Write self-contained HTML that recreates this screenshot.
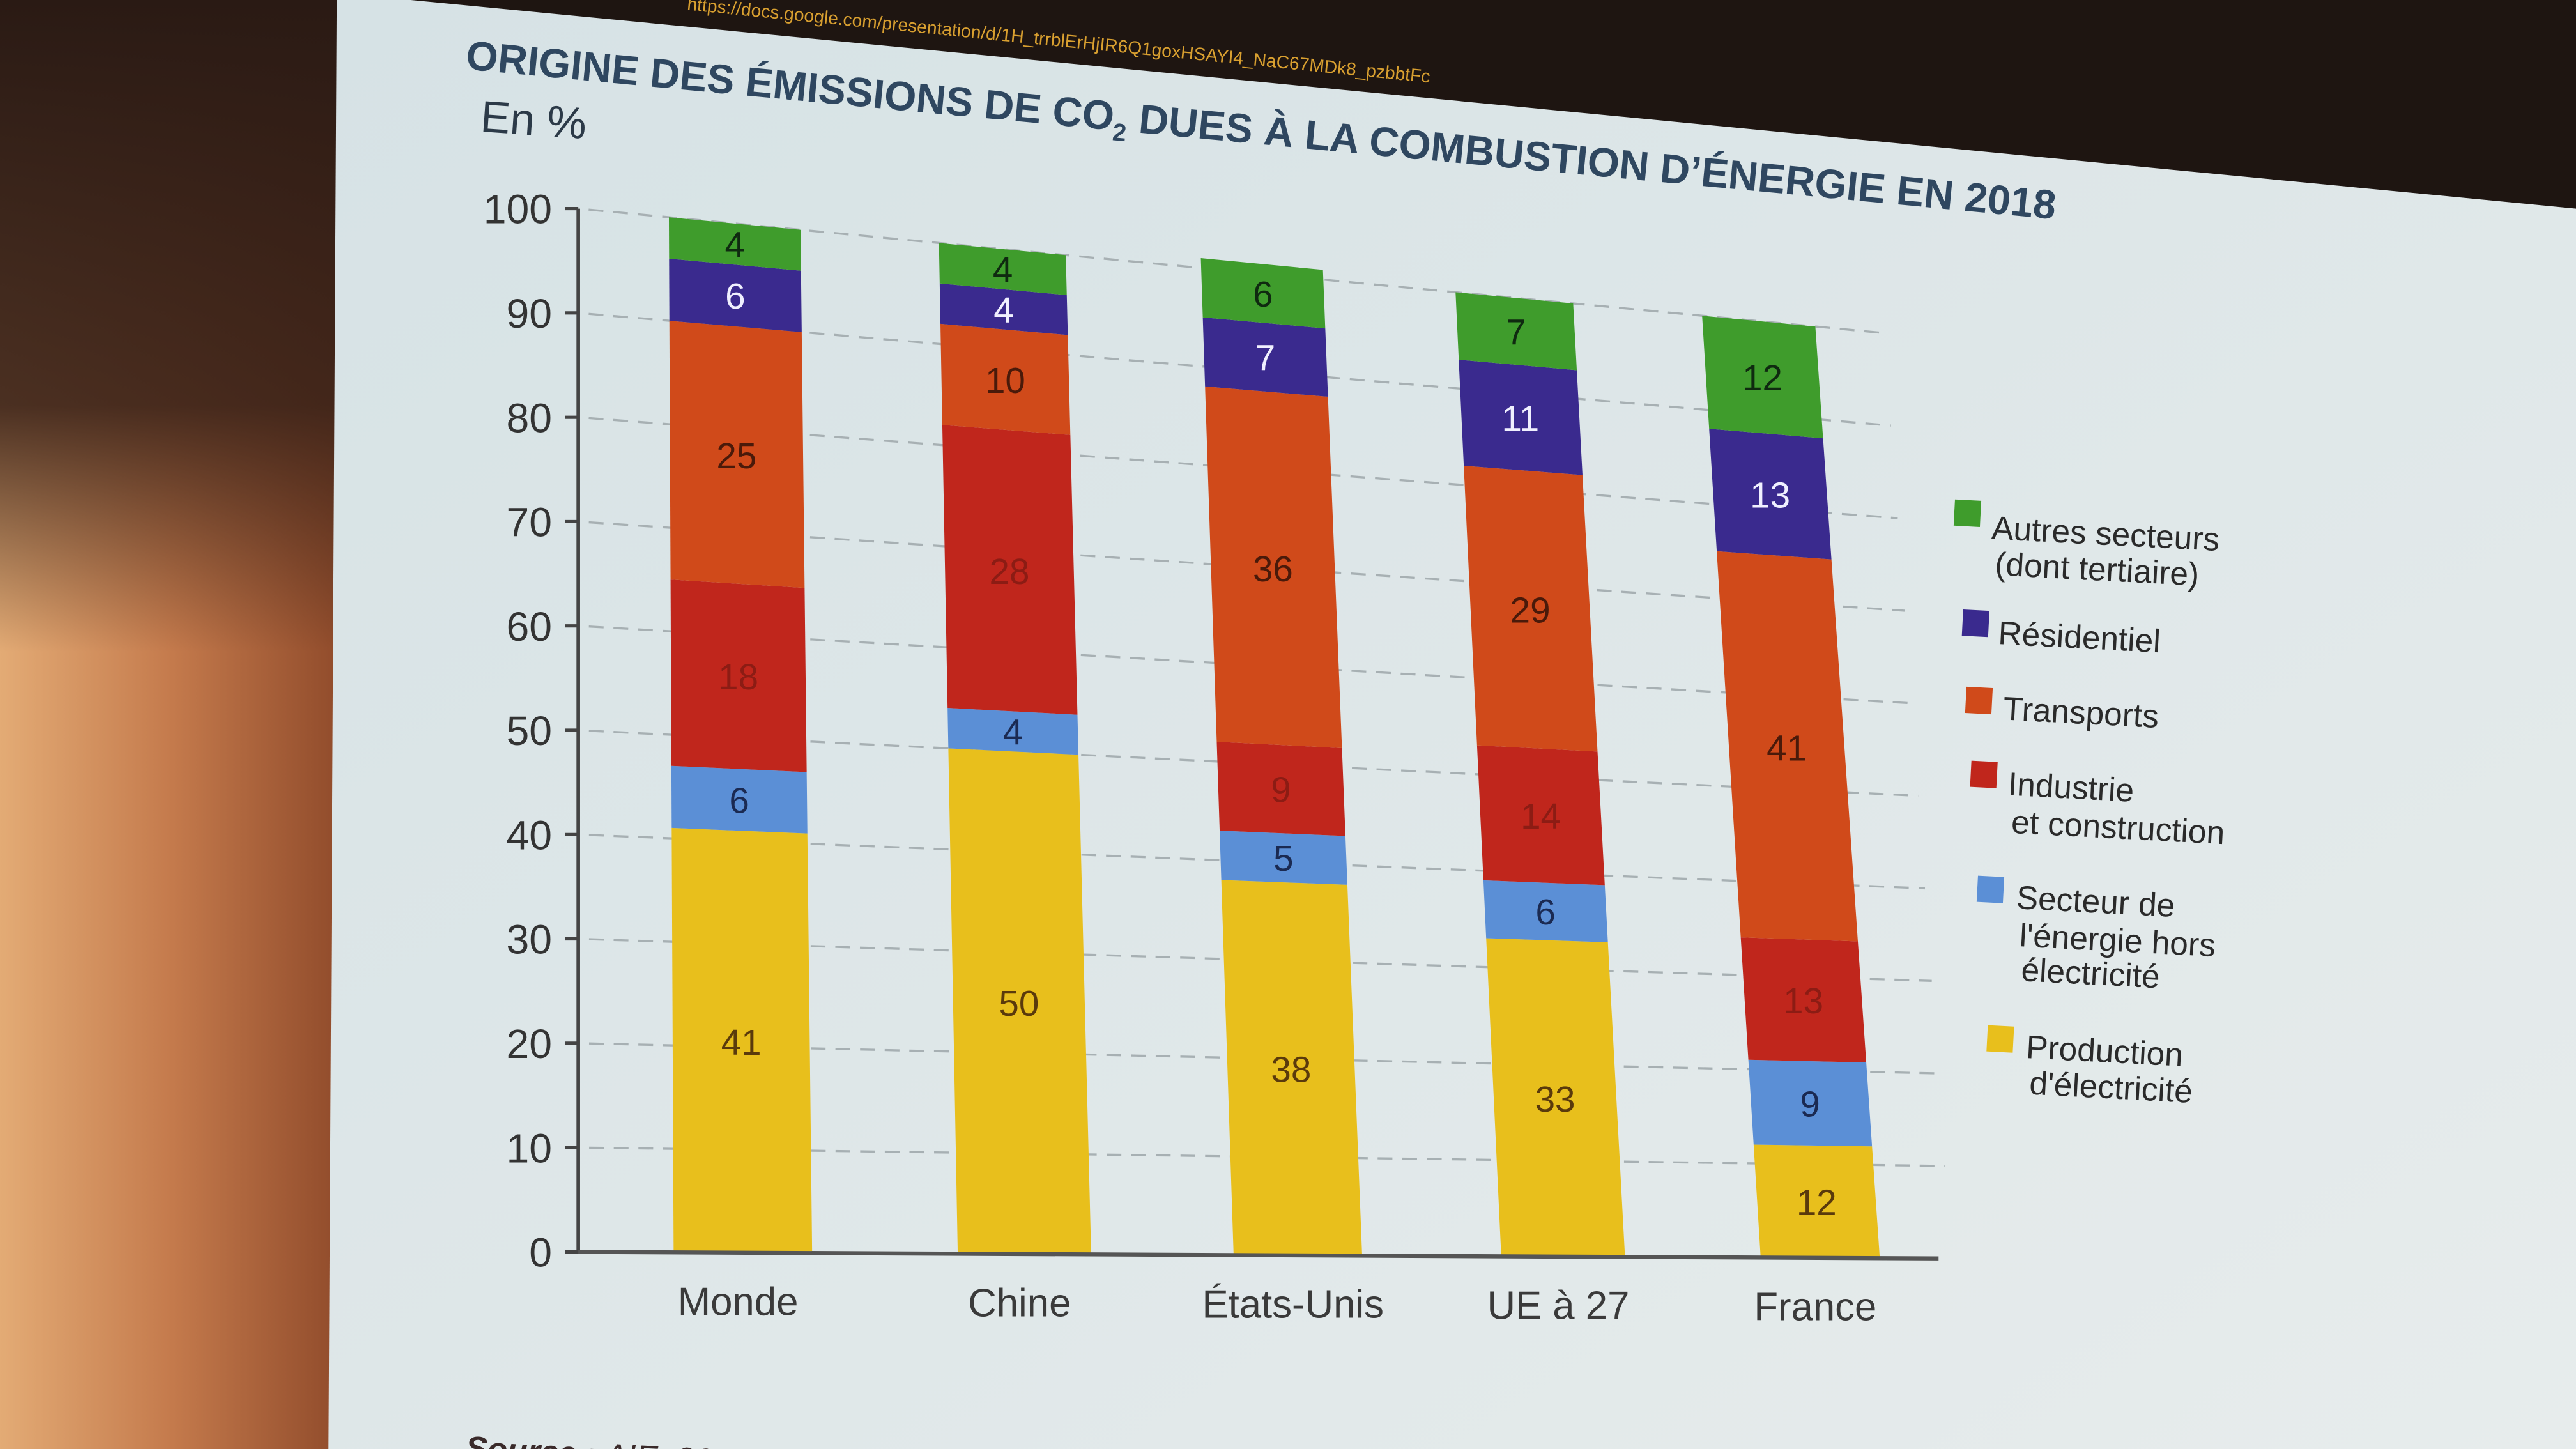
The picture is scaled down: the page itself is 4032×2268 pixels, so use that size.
<!DOCTYPE html>
<html><head><meta charset="utf-8"><style>
html,body{margin:0;padding:0;background:#2a1c16;}
svg{display:block;}
text{font-family:"Liberation Sans",sans-serif;}
</style></head><body>
<svg id="chart" xmlns="http://www.w3.org/2000/svg" width="4032" height="2268" viewBox="0 0 1568 882">
<defs>
<linearGradient id="wallH" x1="0" y1="0" x2="1" y2="0">
<stop offset="0" stop-color="#e3ab75"/><stop offset="0.5" stop-color="#c47a4c"/><stop offset="1" stop-color="#8f4a2a"/>
</linearGradient>
<linearGradient id="wallV" x1="0" y1="0" x2="0" y2="1">
<stop offset="0" stop-color="#2a1a14" stop-opacity="1"/><stop offset="0.28" stop-color="#3a2218" stop-opacity="0.9"/><stop offset="0.45" stop-color="#3a2218" stop-opacity="0"/><stop offset="1" stop-color="#3a2218" stop-opacity="0"/>
</linearGradient>
<linearGradient id="screenG" x1="0" y1="0" x2="1" y2="1">
<stop offset="0" stop-color="#d6e2e5"/><stop offset="1" stop-color="#e7ecec"/>
</linearGradient>
</defs>
<rect x="0" y="0" width="1568" height="882" fill="#1e1511"/>
<rect x="0" y="0" width="210" height="882" fill="url(#wallH)"/>
<rect x="0" y="0" width="210" height="882" fill="url(#wallV)"/>
<polygon points="205,0 250,0 1568,127 1568,882 200,882" fill="url(#screenG)"/>
<text x="418" y="6" font-size="11" fill="#d9a030" transform="rotate(5.6 418 6)">https://docs.google.com/presentation/d/1H_trrblErHjIR6Q1goxHSAYI4_NaC67MDk8_pzbbtFc</text>
<g id="plot"></g>
<text x="283" y="42" font-size="25" font-weight="bold" fill="#2f4760" textLength="972" lengthAdjust="spacingAndGlyphs" transform="rotate(5.4 283 42)">ORIGINE DES ÉMISSIONS DE CO<tspan font-size="15" dy="6">2</tspan><tspan dy="-6"> DUES À LA COMBUSTION D’ÉNERGIE EN 2018</tspan></text>
<text x="292" y="80" font-size="27" fill="#2c3a48" transform="rotate(4 292 80)">En %</text>
<text x="283" y="888" font-size="20" fill="#3a2a2a" transform="rotate(3 283 888)"><tspan font-weight="bold" font-style="italic">Source :</tspan><tspan font-style="italic"> AIE, 2020</tspan></text>
<g id="legend"></g>
</svg>
<script>
const categories = ["Monde","Chine","États-Unis","UE à 27","France"];
const seriesNames = ["Production d'électricité","Secteur de l'énergie hors électricité","Industrie et construction","Transports","Résidentiel","Autres secteurs (dont tertiaire)"];
const production = [41,50,38,33,12];
const energie = [6,4,5,6,9];
const industrie = [18,28,9,14,13];
const transports = [25,10,36,29,41];
const residentiel = [6,4,7,11,13];
const autres = [4,4,6,7,12];
const yTicks = [0,10,20,30,40,50,60,70,80,90,100];

const series = [production, energie, industrie, transports, residentiel, autres];
const colors = ["#e8bf1c","#5b8fd6","#c0261c","#d04a1a","#3a2a8e","#3f9c2c"];
const labelColors = ["#5a3a0c","#1b2a52","#8c1c14","#4a1a0a","#f0f0ff","#0f2a10"];
const NS = "http://www.w3.org/2000/svg";
const plot = document.getElementById('plot');
const legend = document.getElementById('legend');

const BL=[352,762], BR=[1180,766], TL=[352,127], TR=[1139,202];
function P(u,v){
  const t=v/100;
  const bx=BL[0]+(BR[0]-BL[0])*u, by=BL[1]+(BR[1]-BL[1])*u;
  const tx=TL[0]+(TR[0]-TL[0])*u, ty=TL[1]+(TR[1]-TL[1])*u;
  return [bx+(tx-bx)*t, by+(ty-by)*t];
}
// band centre with perspective foreshortening
function xBand(i){ return 0.121 + i*0.21 - i*i*0.003; }
function bandW(u){ return 0.104 - 0.018*u; }
function el(tag, attrs){ const e=document.createElementNS(NS,tag); for(const k in attrs) e.setAttribute(k,attrs[k]); return e; }

yTicks.forEach(t=>{
  if(t===0) return;
  const a=P(0.008,t), b=P(1.01,t);
  const g=el('line',{x1:a[0],y1:a[1],x2:b[0],y2:b[1],stroke:'#a7b0b3','stroke-width':1.3,'stroke-dasharray':'9 6'});
  
  
  plot.appendChild(g);
});

categories.forEach((c,i)=>{
  let cum=0;
  const cx=xBand(i), w=bandW(cx);
  series.forEach((s,k)=>{
    const v=s[i], u0=cx-w/2, u1=cx+w/2;
    const p1=P(u0,cum),p2=P(u1,cum),p3=P(u1,cum+v),p4=P(u0,cum+v);
    const poly=el('polygon',{points:[p1,p2,p3,p4].map(p=>p.join(',')).join(' '),fill:colors[k]});
    
    
    plot.appendChild(poly);
    const m=P(cx,cum+v/2);
    const tx=el('text',{x:m[0],y:m[1]+8,'font-size':22,'text-anchor':'middle',fill:labelColors[k]});
    tx.textContent=v;
    
    
    plot.appendChild(tx);
    cum+=v;
  });
  const b=P(cx,0);
  const cl=el('text',{x:b[0]-3,y:b[1]+38,'font-size':24,'text-anchor':'middle',fill:'#3a3a3a'});
  cl.textContent=c;
  
  
  plot.appendChild(cl);
});

const a0=P(0,0), a1=P(0,100), r0=P(1,0);
const yAxis=el('line',{x1:a0[0],y1:a0[1],x2:a1[0],y2:a1[1],stroke:'#444','stroke-width':2.2});


plot.appendChild(yAxis);
const xAxis=el('line',{x1:a0[0]-8,y1:a0[1],x2:r0[0],y2:r0[1],stroke:'#555','stroke-width':2.5});


plot.appendChild(xAxis);
yTicks.forEach(t=>{
  const p=P(0,t);
  const tk=el('line',{x1:p[0]-8,y1:p[1],x2:p[0],y2:p[1],stroke:'#444','stroke-width':2});
  
  
  plot.appendChild(tk);
  const lb=el('text',{x:p[0]-16,y:p[1]+9,'font-size':25,'text-anchor':'end',fill:'#333'});
  lb.textContent=t;
  
  
  plot.appendChild(lb);
});

const legItems=[
  {k:5,sq:[1190,304],lines:[["Autres secteurs",1212,328],["(dont tertiaire)",1214,350]]},
  {k:4,sq:[1195,371],lines:[["Résidentiel",1216,392]]},
  {k:3,sq:[1197,418],lines:[["Transports",1219,438]]},
  {k:2,sq:[1200,463],lines:[["Industrie",1222,484],["et construction",1224,507]]},
  {k:1,sq:[1204,533],lines:[["Secteur de",1227,553],["l'énergie hors",1229,576],["électricité",1230,597]]},
  {k:0,sq:[1210,624],lines:[["Production",1233,644],["d'électricité",1235,666]]}
];
legItems.forEach(it=>{
  const r=el('rect',{x:it.sq[0],y:it.sq[1],width:16,height:16,fill:colors[it.k],transform:'rotate(3 '+it.sq[0]+' '+it.sq[1]+')'});
  
  
  legend.appendChild(r);
  it.lines.forEach(l=>{
    const t=el('text',{x:l[1],y:l[2],'font-size':20,fill:'#2a2a2a',transform:'rotate(3 '+l[1]+' '+l[2]+')'});
    t.textContent=l[0];
    
    
    legend.appendChild(t);
  });
});
</script>
</body></html>
